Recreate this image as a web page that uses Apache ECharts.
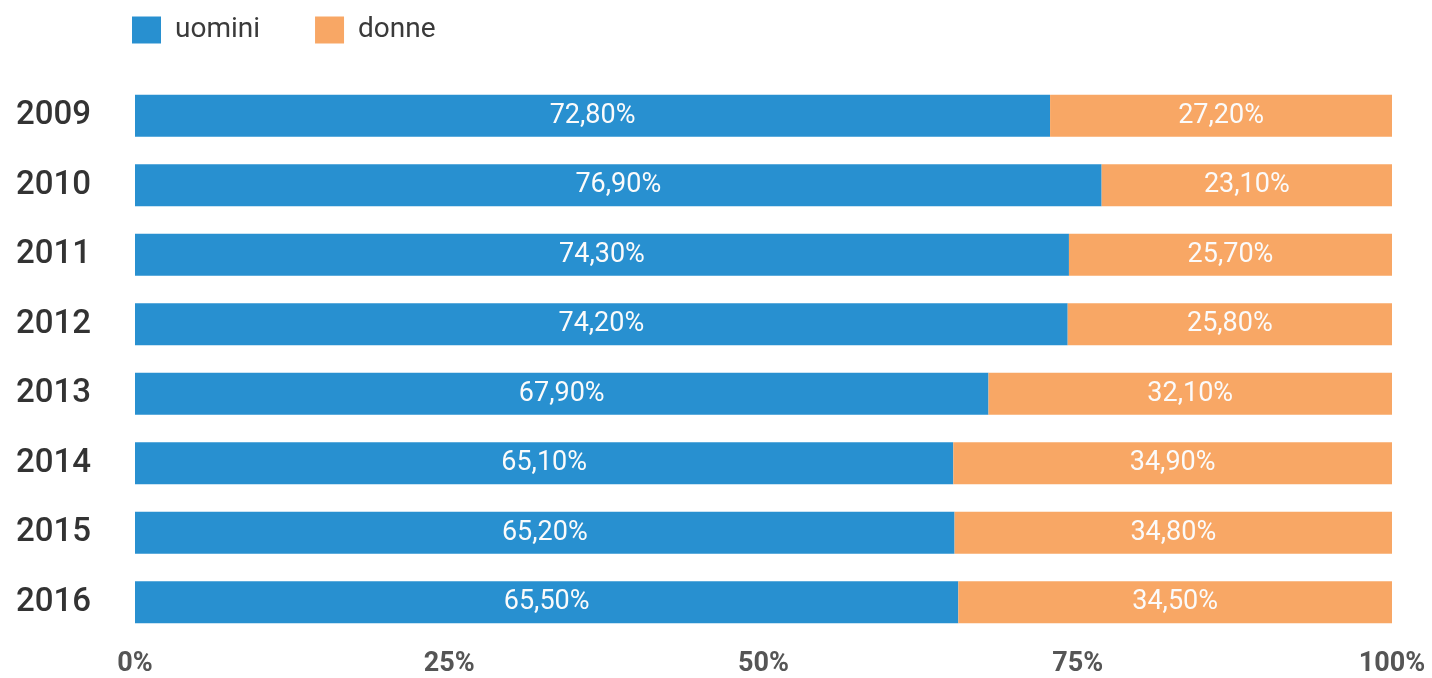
<!DOCTYPE html>
<html>
<head>
<meta charset="utf-8">
<script src="https://cdn.jsdelivr.net/npm/echarts@6/dist/echarts.min.js"></script>
<style>
  html, body { margin: 0; padding: 0; background: #fff; }
  #chart { width: 1432px; height: 678px; }
</style>
</head>
<body>
<div id="chart"></div>
<script>
// Anni e quote percentuali per genere
const years = ['2009', '2010', '2011', '2012', '2013', '2014', '2015', '2016'];
const uomini = [72.8, 76.9, 74.3, 74.2, 67.9, 65.1, 65.2, 65.5];
const donne = [27.2, 23.1, 25.7, 25.8, 32.1, 34.9, 34.8, 34.5];
const xTicks = [0, 25, 50, 75, 100];

const fmt = v => v.toFixed(2).replace('.', ',') + '%';
const font = 'Roboto, "Noto Sans", sans-serif';

const chart = echarts.init(document.getElementById('chart'), null, { renderer: 'canvas' });

const barLabel = {
  show: true,
  position: 'inside',
  color: '#fbfbfb',
  fontFamily: font,
  fontSize: 27,
  fontWeight: 'normal',
  formatter: p => fmt(p.value)
};

chart.setOption({
  animation: false,
  textStyle: { fontFamily: font },
  legend: {
    left: 127,
    top: 11,
    icon: 'rect',
    itemWidth: 29,
    itemHeight: 27,
    itemGap: 55,
    textStyle: { fontSize: 28, color: '#3a3a3a', fontFamily: font, padding: [0, 0, 0, 9] },
    data: ['uomini', 'donne']
  },
  grid: { left: 135, right: 40, top: 81, bottom: 41, containLabel: false },
  xAxis: {
    type: 'value',
    min: xTicks[0],
    max: xTicks[xTicks.length - 1],
    interval: 25,
    axisLine: { show: false },
    axisTick: { show: false },
    splitLine: { show: false },
    axisLabel: {
      margin: 14,
      fontSize: 27,
      fontWeight: 'bold',
      color: '#555',
      fontFamily: font,
      formatter: '{value}%'
    }
  },
  yAxis: {
    type: 'category',
    inverse: true,
    data: years,
    axisLine: { show: false },
    axisTick: { show: false },
    splitLine: { show: false },
    axisLabel: {
      margin: 44,
      fontSize: 33,
      fontWeight: 500,
      color: '#333',
      fontFamily: font
    }
  },
  series: [
    {
      name: 'uomini',
      type: 'bar',
      stack: 'tot',
      barWidth: 42,
      data: uomini,
      itemStyle: { color: '#2890D0' },
      label: barLabel
    },
    {
      name: 'donne',
      type: 'bar',
      stack: 'tot',
      barWidth: 42,
      data: donne,
      itemStyle: { color: '#F8A765' },
      label: barLabel
    }
  ]
});
</script>
</body>
</html>
